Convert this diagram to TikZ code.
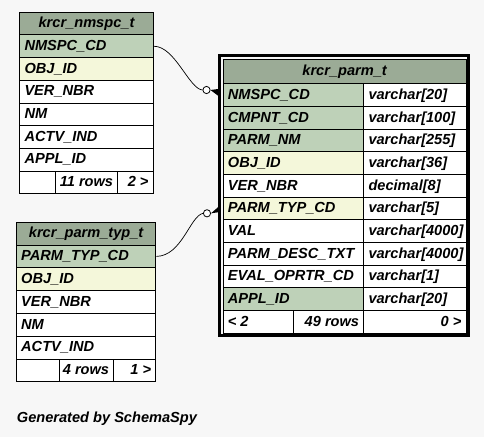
\documentclass[tikz,border=0pt]{standalone}
\usepackage{fontspec}
\setmainfont{Liberation Sans}
\definecolor{bg}{HTML}{F7F7F7}
\definecolor{hdr}{HTML}{9BAB96}
\definecolor{pk}{HTML}{BED1B8}
\definecolor{idx}{HTML}{F4F7DA}
\tikzset{
  tfont/.style={font=\fontsize{14.6}{16}\selectfont\bfseries\itshape},
  cellbox/.style={draw=black, line width=1pt, rectangle, inner sep=0pt, anchor=north west, fill=white},
  lbl/.style={tfont, inner sep=0pt, text height=10.4pt, text depth=0pt},
  lt/.style={label={[lbl, anchor=west, xshift=5pt, yshift=1pt]west:{#1}}},
  rt/.style={label={[lbl, anchor=east, xshift=-5pt, yshift=1pt]east:{#1}}},
  ct/.style={label={[lbl, anchor=center, yshift=1pt]center:{#1}}},
  edgeline/.style={draw=black, line width=0.7pt},
  dotend/.style={circle, draw=black, line width=0.8pt, fill=white, minimum size=7.2pt, inner sep=0pt},
  crowfoot/.style={fill=black},
}
\begin{document}
\begin{tikzpicture}[x=1pt, y=-1pt]
\fill[bg] (0,0) rectangle (484,437);
\useasboundingbox (0,0) rectangle (484,437);

% ---------- krcr_nmspc_t ----------
\node[cellbox, fill=hdr, minimum width=133.4pt, minimum height=22.7pt, ct={krcr\_nmspc\_t}] (a0) at (19.3,11.7) {};
\node[cellbox, fill=pk,  minimum width=133.4pt, minimum height=22.7pt, lt={NMSPC\_CD}] (a1) at (19.3,34.4) {};
\node[cellbox, fill=idx, minimum width=133.4pt, minimum height=22.7pt, lt={OBJ\_ID}] (a2) at (19.3,57.1) {};
\node[cellbox, minimum width=133.4pt, minimum height=22.7pt, lt={VER\_NBR}] (a3) at (19.3,79.8) {};
\node[cellbox, minimum width=133.4pt, minimum height=22.7pt, lt={NM}] (a4) at (19.3,102.5) {};
\node[cellbox, minimum width=133.4pt, minimum height=22.7pt, lt={ACTV\_IND}] (a5) at (19.3,125.2) {};
\node[cellbox, minimum width=133.4pt, minimum height=22.7pt, lt={APPL\_ID}] (a6) at (19.3,147.9) {};
\node[cellbox, minimum width=36pt, minimum height=22.7pt] (a7l) at (19.3,170.6) {};
\node[cellbox, minimum width=62pt, minimum height=22.7pt, rt={11 rows}] (a7m) at (55.3,170.6) {};
\node[cellbox, minimum width=35.4pt, minimum height=22.7pt, rt={2 >}] (a7r) at (117.3,170.6) {};

% ---------- krcr_parm_typ_t ----------
\node[cellbox, fill=hdr, minimum width=139.3pt, minimum height=22.8pt, ct={krcr\_parm\_typ\_t}] (b0) at (16,221.7) {};
\node[cellbox, fill=pk,  minimum width=139.3pt, minimum height=22.8pt, lt={PARM\_TYP\_CD}] (b1) at (16,244.5) {};
\node[cellbox, fill=idx, minimum width=139.3pt, minimum height=22.8pt, lt={OBJ\_ID}] (b2) at (16,267.3) {};
\node[cellbox, minimum width=139.3pt, minimum height=22.8pt, lt={VER\_NBR}] (b3) at (16,290.1) {};
\node[cellbox, minimum width=139.3pt, minimum height=22.8pt, lt={NM}] (b4) at (16,312.9) {};
\node[cellbox, minimum width=139.3pt, minimum height=22.8pt, lt={ACTV\_IND}] (b5) at (16,335.7) {};
\node[cellbox, minimum width=43.3pt, minimum height=22.8pt] (b6l) at (16,358.5) {};
\node[cellbox, minimum width=54pt, minimum height=22.8pt, rt={4 rows}] (b6m) at (59.3,358.5) {};
\node[cellbox, minimum width=42pt, minimum height=22.8pt, rt={1 >}] (b6r) at (113.3,358.5) {};

% ---------- krcr_parm_t ----------
\node[cellbox, fill=hdr, minimum width=242.8pt, minimum height=24.4pt, ct={krcr\_parm\_t}] (m0) at (222.7,58.9) {};
\node[cellbox, fill=pk,  minimum width=140.6pt, minimum height=22.67pt, lt={NMSPC\_CD}] (m1) at (222.7,83.3) {};
\node[cellbox, minimum width=102.2pt, minimum height=22.67pt, lt={varchar[20]}] (m1t) at (363.3,83.3) {};
\node[cellbox, fill=pk,  minimum width=140.6pt, minimum height=22.67pt, lt={CMPNT\_CD}] (m2) at (222.7,105.97) {};
\node[cellbox, minimum width=102.2pt, minimum height=22.67pt, lt={varchar[100]}] (m2t) at (363.3,105.97) {};
\node[cellbox, fill=pk,  minimum width=140.6pt, minimum height=22.67pt, lt={PARM\_NM}] (m3) at (222.7,128.64) {};
\node[cellbox, minimum width=102.2pt, minimum height=22.67pt, lt={varchar[255]}] (m3t) at (363.3,128.64) {};
\node[cellbox, fill=idx, minimum width=140.6pt, minimum height=22.67pt, lt={OBJ\_ID}] (m4) at (222.7,151.31) {};
\node[cellbox, minimum width=102.2pt, minimum height=22.67pt, lt={varchar[36]}] (m4t) at (363.3,151.31) {};
\node[cellbox, minimum width=140.6pt, minimum height=22.67pt, lt={VER\_NBR}] (m5) at (222.7,173.98) {};
\node[cellbox, minimum width=102.2pt, minimum height=22.67pt, lt={decimal[8]}] (m5t) at (363.3,173.98) {};
\node[cellbox, fill=idx, minimum width=140.6pt, minimum height=22.67pt, lt={PARM\_TYP\_CD}] (m6) at (222.7,196.65) {};
\node[cellbox, minimum width=102.2pt, minimum height=22.67pt, lt={varchar[5]}] (m6t) at (363.3,196.65) {};
\node[cellbox, minimum width=140.6pt, minimum height=22.67pt, lt={VAL}] (m7) at (222.7,219.32) {};
\node[cellbox, minimum width=102.2pt, minimum height=22.67pt, lt={varchar[4000]}] (m7t) at (363.3,219.32) {};
\node[cellbox, minimum width=140.6pt, minimum height=22.67pt, lt={PARM\_DESC\_TXT}] (m8) at (222.7,241.99) {};
\node[cellbox, minimum width=102.2pt, minimum height=22.67pt, lt={varchar[4000]}] (m8t) at (363.3,241.99) {};
\node[cellbox, minimum width=140.6pt, minimum height=22.67pt, lt={EVAL\_OPRTR\_CD}] (m9) at (222.7,264.66) {};
\node[cellbox, minimum width=102.2pt, minimum height=22.67pt, lt={varchar[1]}] (m9t) at (363.3,264.66) {};
\node[cellbox, fill=pk,  minimum width=140.6pt, minimum height=22.67pt, lt={APPL\_ID}] (m10) at (222.7,287.33) {};
\node[cellbox, minimum width=102.2pt, minimum height=22.67pt, lt={varchar[20]}] (m10t) at (363.3,287.33) {};
\node[cellbox, minimum width=70.6pt, minimum height=22.7pt, lt={< 2}] (m11l) at (222.7,310.0) {};
\node[cellbox, minimum width=70pt, minimum height=22.7pt, rt={49 rows}] (m11m) at (293.3,310.0) {};
\node[cellbox, minimum width=102.2pt, minimum height=22.7pt, rt={0 >}] (m11r) at (363.3,310.0) {};
\draw[line width=2.5pt] (219.7,55.7) rectangle (468.3,335.6);

% ---------- connectors ----------
\node[dotend] (o1) at (206.5,90) {};
\node[dotend] (o2) at (207,213.3) {};
\draw[edgeline] (a1.east) .. controls (175,46) and (189,89) .. (o1.west);
\fill[crowfoot] (o1.east) -- ++(9,-1.2) -- ++(0,8) -- cycle;
\draw[edgeline] (b1.east) .. controls (182,256) and (190,216) .. (o2.west);
\fill[crowfoot] (o2.east) -- ++(9,-7.8) -- ++(0,6.5) -- cycle;

% ---------- footer text ----------
\node[lbl, anchor=west] (gen) at (16.7,417.5) {Generated by SchemaSpy};
\end{tikzpicture}
\end{document}
